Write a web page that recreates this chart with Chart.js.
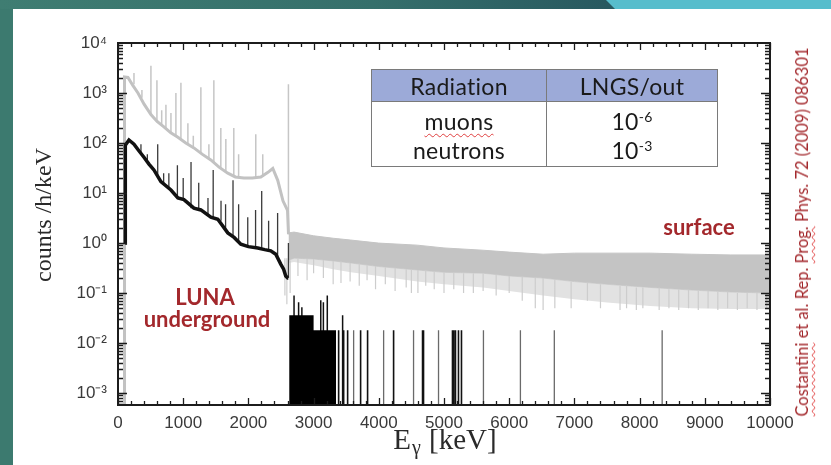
<!DOCTYPE html>
<html>
<head>
<meta charset="utf-8">
<title>LUNA background spectrum</title>
<script src="https://cdn.jsdelivr.net/npm/chart.js"></script>
<style>
    html, body { margin: 0; padding: 0; }
    body {
        width: 831px; height: 465px; overflow: hidden; position: relative;
        background: #3c7a6f;
        font-family: 'Liberation Sans', Arial, sans-serif;
    }
    .topband {
        position: absolute; left: 0; top: 0; width: 831px; height: 9px;
        background: linear-gradient(90deg, #3f7d72 0%, #356f6b 45%, #285960 73%);
    }
    .cyan {
        position: absolute; left: 606px; top: 0; width: 225px; height: 9px;
        background: #57bdcc;
        clip-path: polygon(0 0, 100% 0, 100% 100%, 9px 100%);
    }
    .panel { position: absolute; left: 13px; top: 9px; right: 0; bottom: 0; background: #fff; }
    canvas { position: absolute; left: 0; top: 0; }
    .red {
        position: absolute; color: #a3282c; white-space: nowrap;
        font-family: Lato, 'Open Sans', sans-serif; font-weight: 700; font-size: 22px;
        transform: translate(-50%, -50%);
    }
    .cite {
        position: absolute; left: 802px; top: 232px; color: #a3282c; white-space: nowrap;
        font-family: Lato, 'Open Sans', sans-serif; font-size: 16.5px;
        transform: translate(-50%, -50%) rotate(-90deg);
    }
    .sq {
        text-decoration: underline wavy #e04040;
        text-decoration-thickness: 1px;
        text-underline-offset: 3px;
    }
    table.ratio {
        position: absolute; left: 371px; top: 69px; width: 347px;
        border-collapse: collapse; border: 1.5px solid #7a7a7a;
        font-family: Lato, 'Open Sans', sans-serif; font-size: 23px; color: #1a1a1a;
        letter-spacing: 0.3px;
    }
    table.ratio th { background: #9caad8; height: 31px; font-weight: 400; border-bottom: 1.5px solid #7a7a7a; padding: 0; }
    table.ratio td { text-align: center; padding: 0; }
    table.ratio th:first-child, table.ratio td:first-child { width: 174px; border-right: 1.5px solid #7a7a7a; }
    table.ratio tr.r1 td { height: 30px; padding-top: 4px; }
    table.ratio tr.r2 td { height: 25px; padding-bottom: 2px; }
    table.ratio sup { font-size: 14px; vertical-align: 8px; }
</style>
</head>
<body>
    <div class="topband"></div>
    <div class="cyan"></div>
    <div class="panel"></div>
    <canvas id="spectrum" width="831" height="465"></canvas>

    <table class="ratio">
        <tr><th>Radiation</th><th>LNGS/out</th></tr>
        <tr class="r1"><td><span class="sq">muons</span></td><td>10<sup>-6</sup></td></tr>
        <tr class="r2"><td>neutrons</td><td>10<sup>-3</sup></td></tr>
    </table>
    <div class="red" style="left:699px; top:226px;">surface</div>
    <div class="red" style="left:205px; top:296px;">LUNA</div>
    <div class="red" style="left:207px; top:318px;">underground</div>
    <div class="cite"><span class="sq">Costantini</span> et al. Rep. <span class="sq">Prog.</span> Phys. 72 (2009) 086301</div>

    <script>
        // axis setup
        const xTickValues = [0, 1000, 2000, 3000, 4000, 5000, 6000, 7000, 8000, 9000, 10000];
        const yTickValues = [1e-3, 1e-2, 1e-1, 1e0, 1e1, 1e2, 1e3, 1e4];
        const yTickLabels = ['10\u207B\u00B3', '10\u207B\u00B2', '10\u207B\u00B9', '10\u2070', '10\u00B9', '10\u00B2', '10\u00B3', '10\u2074'];
        const yMin = 5.8e-4, yMax = 1e4;

        // surface (outside) spectrum, continuum below the 2614 keV line
        const surfE = [95, 100, 153, 230, 306, 400, 505, 600, 704, 810, 919, 1040, 1164, 1290, 1424, 1550, 1684, 1800, 1930, 2060, 2190, 2300, 2374, 2450, 2530, 2600, 2615];
        const surfY = [0.0006, 2100, 2050, 1400, 1000, 600, 370, 270, 210, 160, 130, 100, 80, 60, 46, 33, 25, 21, 20, 20, 21, 26, 31, 18, 7, 4.5, 1.5];
        // surface gamma lines
        const surfPkE  = [245, 367, 505, 597, 670, 735, 812, 888, 965, 1072, 1155, 1271, 1394, 1470, 1577, 1654, 1776, 1850, 2113, 2220, 2614];
        const surfPkLo = [1500, 800, 370, 260, 230, 200, 160, 140, 120, 95, 82, 62, 47, 42, 32, 27, 22, 20, 20, 21, 1.5];
        const surfPkHi = [2500, 1150, 3500, 1800, 450, 580, 400, 1000, 1600, 250, 140, 1300, 95, 1800, 200, 120, 200, 60, 150, 60, 1500];
        // surface noise band above 2614 keV
        const bandE    = [2615, 2700, 3000, 3300, 3570, 4000, 4590, 5000, 5600, 6000, 6520, 7000, 7500, 8160, 8800, 9400, 10000];
        const bandHi   = [1.6, 1.66, 1.4, 1.25, 1.15, 1.0, 0.91, 0.8, 0.72, 0.66, 0.6, 0.63, 0.63, 0.63, 0.6, 0.58, 0.58];
        const bandLo   = [0.45, 0.5, 0.48, 0.44, 0.4, 0.34, 0.29, 0.26, 0.25, 0.22, 0.2, 0.17, 0.15, 0.13, 0.115, 0.105, 0.1];
        const fringeLo = [0.4, 0.42, 0.36, 0.3, 0.26, 0.22, 0.17, 0.15, 0.13, 0.11, 0.09, 0.075, 0.065, 0.055, 0.05, 0.048, 0.048];
        // downward noise excursions of the surface spectrum
        const surfDipE  = [2560, 2590, 2640, 2760, 2900, 3000, 3150, 3300, 3420, 3560, 3700, 3820, 3950, 4100, 4250, 4420, 4500, 4600, 4720, 4850, 5000, 5150, 5300, 5450, 5600, 5800, 6000, 6200, 6400, 6520, 6700, 6950, 7200, 7400, 7700, 7800, 7950, 8050, 8300, 8450, 8600, 8750, 8900, 9050, 9200, 9350, 9500, 9650, 9800, 9950];
        const surfDipHi = [0.5, 0.5, 0.45, 0.5, 0.48, 0.48, 0.46, 0.44, 0.43, 0.4, 0.39, 0.37, 0.35, 0.33, 0.32, 0.3, 0.3, 0.29, 0.28, 0.27, 0.26, 0.26, 0.25, 0.25, 0.25, 0.23, 0.22, 0.21, 0.2, 0.2, 0.19, 0.17, 0.16, 0.15, 0.14, 0.14, 0.13, 0.13, 0.13, 0.12, 0.12, 0.115, 0.11, 0.11, 0.105, 0.105, 0.1, 0.1, 0.1, 0.1];
        const surfDipLo = [0.09, 0.06, 0.1, 0.22, 0.18, 0.25, 0.2, 0.15, 0.16, 0.17, 0.14, 0.18, 0.12, 0.15, 0.11, 0.13, 0.1, 0.1, 0.14, 0.12, 0.1, 0.12, 0.1, 0.1, 0.11, 0.09, 0.1, 0.07, 0.05, 0.046, 0.05, 0.05, 0.07, 0.05, 0.046, 0.05, 0.046, 0.05, 0.046, 0.05, 0.046, 0.05, 0.046, 0.05, 0.046, 0.05, 0.046, 0.05, 0.046, 0.05];

        // LUNA underground spectrum
        const lunaE = [110, 112, 168, 245, 320, 398, 475, 551, 658, 812, 919, 1011, 1164, 1271, 1424, 1531, 1684, 1780, 1884, 2000, 2144, 2250, 2343, 2420, 2496, 2540, 2573, 2603, 2612];
        const lunaY = [1.0, 90, 115, 95, 70, 52, 38, 29, 17, 11.5, 8, 7.4, 5, 4.6, 3.3, 3.0, 1.6, 1.3, 0.95, 0.85, 0.8, 0.74, 0.7, 0.6, 0.38, 0.3, 0.22, 0.2, 0.2];
        const lunaPkE  = [352, 450, 609, 700, 780, 911, 1000, 1120, 1238, 1380, 1460, 1580, 1650, 1764, 1850, 1990, 2110, 2204, 2310, 2448, 2614];
        const lunaPkLo = [58, 40, 22, 15, 12, 8, 7.4, 5, 4.7, 3.5, 3.3, 2.8, 1.8, 1.4, 1.0, 0.85, 0.8, 0.77, 0.72, 0.55, 0.2];
        const lunaPkHi = [95, 60, 95, 25, 25, 36, 20, 42, 16, 8, 29, 7, 6, 18, 6, 3.3, 4.6, 11, 2.8, 4, 1.0];
        // single counts above 2.6 MeV
        const lunaBlockE = [2625, 3000, 3000, 3345];
        const lunaBlockY = [0.036, 0.036, 0.018, 0.018];
        const lunaTallE = [2700, 2770, 2820, 3110, 3150, 3210, 3445];
        const lunaTallY = [0.09, 0.066, 0.052, 0.072, 0.066, 0.09, 0.036];
        const lunaCountE = [3384, 3461, 3522, 3721, 3828, 4227, 4671, 4686, 5130, 5150, 5176, 5222, 5268];
        const lunaCountY = [0.018, 0.018, 0.018, 0.018, 0.018, 0.018, 0.018, 0.018, 0.018, 0.018, 0.018, 0.018, 0.018];
        const lunaThinE = [3614, 4074, 4533, 4916, 5605, 6172, 6692, 8346];
        const lunaThinY = [0.018, 0.018, 0.018, 0.018, 0.018, 0.018, 0.018, 0.018];

        const pts = (xs, ys) => xs.map((x, i) => ({x: x, y: ys[i]}));
        // vertical segments, broken by null points
        function spikes(xs, lo, hi) {
            const out = [];
            xs.forEach((x, i) => {
                out.push({x: x, y: Array.isArray(lo) ? lo[i] : lo}, {x: x, y: hi[i]}, {x: x, y: null});
            });
            return out;
        }
        const lineDs = (data, color, width, order, extra) => Object.assign({
            data: data, borderColor: color, borderWidth: width, pointRadius: 0,
            tension: 0, fill: false, order: order
        }, extra || {});

        // frame and inward ticks on all four sides
        const framePlugin = {
            id: 'frame',
            afterDraw(chart) {
                const {ctx, chartArea: a, scales: {x, y}} = chart;
                ctx.save();
                ctx.strokeStyle = '#1c1c1c';
                ctx.lineWidth = 1.3;
                ctx.beginPath();
                for (let e = 0; e <= 10000; e += 200) {
                    const px = Math.round(x.getPixelForValue(e)) + 0.5;
                    const len = e % 1000 === 0 ? 7 : 4;
                    ctx.moveTo(px, a.bottom); ctx.lineTo(px, a.bottom - len);
                    ctx.moveTo(px, a.top); ctx.lineTo(px, a.top + len);
                }
                for (let p = -4; p < 4; p++) {
                    for (let k = 1; k < 10; k++) {
                        const v = k * Math.pow(10, p);
                        if (v < yMin || v > yMax) continue;
                        const py = Math.round(y.getPixelForValue(v)) + 0.5;
                        const len = k === 1 ? 9 : 5;
                        ctx.moveTo(a.left, py); ctx.lineTo(a.left + len, py);
                        ctx.moveTo(a.right, py); ctx.lineTo(a.right - len, py);
                    }
                }
                ctx.stroke();
                ctx.lineWidth = 2;
                ctx.strokeRect(a.left, a.top, a.right - a.left, a.bottom - a.top);

                // axis titles
                ctx.fillStyle = '#2a2a2a';
                ctx.font = '24px "Liberation Serif", "Times New Roman", serif';
                ctx.textAlign = 'center';
                ctx.textBaseline = 'middle';
                ctx.save();
                ctx.translate(45, 215);
                ctx.rotate(-Math.PI / 2);
                ctx.fillText('counts /h/keV', 0, 0);
                ctx.restore();

                const big = '29px "Liberation Serif", "Times New Roman", serif';
                const small = '20px "Liberation Serif", "Times New Roman", serif';
                ctx.textAlign = 'left';
                ctx.textBaseline = 'alphabetic';
                ctx.font = big;
                const wE = ctx.measureText('E').width;
                const wRest = ctx.measureText(' [keV]').width;
                ctx.font = small;
                const wG = ctx.measureText('\u03B3').width + 2;
                let sx = 445 - (wE + wG + wRest) / 2;
                const base = 449;
                ctx.font = big;
                ctx.fillText('E', sx, base);
                ctx.font = small;
                ctx.fillText('\u03B3', sx + wE + 1, base + 5);
                ctx.font = big;
                ctx.fillText(' [keV]', sx + wE + wG, base);
                ctx.restore();
            }
        };

        const tickFont = {family: '"Liberation Sans", Arial, sans-serif', size: 17};

        new Chart(document.getElementById('spectrum'), {
            type: 'line',
            data: {
                datasets: [
                    lineDs(pts(surfE, surfY), '#c2c2c2', 3, 20),
                    lineDs(spikes(surfPkE, surfPkLo, surfPkHi), '#c6c6c6', 1.5, 21),
                    lineDs(pts(bandE, bandHi), '#c4c4c4', 1, 24, {fill: '+1', backgroundColor: '#c4c4c4'}),
                    lineDs(pts(bandE, bandLo), '#d0d0d0', 1, 25, {fill: '+1', backgroundColor: '#e2e2e2'}),
                    lineDs(pts(bandE, fringeLo), 'rgba(0,0,0,0)', 0, 26),
                    lineDs(spikes(surfDipE, surfDipHi, surfDipLo), '#cdcdcd', 1.2, 23),
                    lineDs(pts(lunaE, lunaY), '#111111', 3.5, 2),
                    lineDs(spikes(lunaPkE, lunaPkLo, lunaPkHi), '#3a3a3a', 1.3, 3),
                    lineDs(pts(lunaBlockE, lunaBlockY), '#000000', 0, 4, {fill: 'start', backgroundColor: '#000000'}),
                    lineDs(spikes(lunaTallE, yMin, lunaTallY), '#111111', 1.5, 5),
                    lineDs(spikes(lunaCountE, yMin, lunaCountY), '#111111', 1.6, 6),
                    lineDs(spikes(lunaThinE, yMin, lunaThinY), '#6a6a6a', 1.3, 7)
                ]
            },
            options: {
                responsive: false,
                animation: false,
                layout: {padding: {left: 0, right: 61, top: 43, bottom: 0}},
                plugins: {legend: {display: false}, tooltip: {enabled: false}},
                scales: {
                    x: {
                        type: 'linear', min: 0, max: 10000,
                        grid: {display: false, drawTicks: false},
                        border: {display: false},
                        afterBuildTicks: s => { s.ticks = xTickValues.map(v => ({value: v})); },
                        ticks: {
                            padding: 8, color: '#3a3a3a', font: tickFont, maxRotation: 0, autoSkip: false,
                            callback: v => String(v)
                        },
                        afterFit: s => { s.height = 60; }
                    },
                    y: {
                        type: 'logarithmic', min: yMin, max: yMax,
                        grid: {display: false, drawTicks: false},
                        border: {display: false},
                        afterBuildTicks: s => { s.ticks = yTickValues.map(v => ({value: v})); },
                        ticks: {
                            padding: 11, color: '#3a3a3a', font: tickFont, autoSkip: false,
                            callback: v => yTickLabels[yTickValues.findIndex(t => Math.abs(Math.log10(t) - Math.log10(v)) < 1e-6)]
                        },
                        afterFit: s => { s.width = 118; }
                    }
                }
            },
            plugins: [framePlugin]
        });
    </script>
</body>
</html>
